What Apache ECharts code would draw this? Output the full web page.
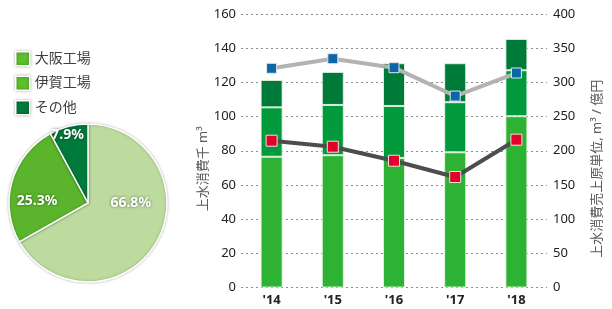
<!DOCTYPE html>
<html>
<head>
<meta charset="utf-8">
<script src="https://cdn.jsdelivr.net/npm/echarts@6/dist/echarts.min.js"></script>
<style>
	html, body { margin: 0; padding: 0; background: #fff; }
	#chart { width: 612px; height: 309px; }
</style>
</head>
<body>
<div id="chart"></div>
<script>
	// 年度
	var years = ["'14", "'15", "'16", "'17", "'18"]
	// 上水消費 千m3（積み上げ）
	var bottomPart = [76.5, 77.4, 75.8, 79.1, 100.2]
	var middlePart = [28.9, 29.4, 30.4, 29.3, 26.9]
	var topPart = [16.0, 19.3, 25.0, 22.8, 18.3]
	// 原単位 m3/億円
	var grayLine = [320.6, 334.6, 321.5, 280.0, 313.7]
	var darkLine = [214.7, 205.9, 185.4, 161.6, 216.2]
	// 円グラフ
	var pieNames = ['大阪工場', '伊賀工場', 'その他']
	var pieValues = [66.8, 25.3, 7.9]
	var pieColors = ['#bddb9e', '#5bb52c', '#007a3a']
	var legendColors = ['#5cbf2c', '#5cbf2c', '#007a38']
	var pieOffsets = [[6, -21], [-10, 10], [-10, -27]]
	// 目盛
	var leftTicks = [0, 160, 20]
	var rightTicks = [0, 400, 50]

	var chart = echarts.init(document.getElementById('chart'))
	var font = '"Noto Sans", "Noto Sans CJK JP", sans-serif'
	var gridLine = { show: true, lineStyle: { color: '#8c8c8c', type: [2, 3], width: 1 } }
	var barBorder = { borderColor: 'rgba(230,245,230,0.85)', borderWidth: 1 }

	var pieData = pieValues.map(function (v, i) {
		return {
			name: pieNames[i],
			value: v,
			itemStyle: { color: pieColors[i] },
			label: { offset: pieOffsets[i] }
		}
	})

	var option = {
		animation: false,
		textStyle: { fontFamily: font },
		legend: {
			orient: 'vertical',
			left: 10,
			top: 46,
			itemWidth: 14,
			itemHeight: 14,
			itemGap: 9,
			selectedMode: false,
			textStyle: { fontSize: 14, color: '#404040', fontFamily: font },
			data: pieNames.map(function (n, i) {
				return {
					name: n,
					icon: 'rect',
					itemStyle: {
						color: legendColors[i], borderColor: '#fff', borderWidth: 1.5,
						shadowBlur: 3, shadowColor: 'rgba(0,0,0,0.35)'
					}
				}
			})
		},
		grid: { left: 241, right: 51, top: 14, bottom: 21.5 },
		xAxis: {
			type: 'category',
			data: years,
			axisLine: { show: false },
			axisTick: { show: false },
			axisLabel: { margin: 6, fontSize: 13, fontWeight: 'bold', color: '#222' }
		},
		yAxis: [{
			type: 'value',
			min: leftTicks[0], max: leftTicks[1], interval: leftTicks[2],
			name: '上水消費千 m³',
			nameLocation: 'middle',
			nameGap: 31,
			// 名前を少し下にずらす
			nameTextStyle: { fontSize: 13, color: '#595959', padding: [0, 36, 0, 0] },
			axisLine: { show: false },
			axisTick: { show: false },
			axisLabel: { margin: 5, fontSize: 13, color: '#222' },
			splitLine: gridLine
		}, {
			type: 'value',
			min: rightTicks[0], max: rightTicks[1], interval: rightTicks[2],
			name: '上水消費売上原単位, m³ / 億円',
			nameLocation: 'middle',
			nameGap: 44,
			nameTextStyle: { fontSize: 13, color: '#595959', padding: [0, 36, 0, 0] },
			axisLine: { show: false },
			axisTick: { show: false },
			axisLabel: { margin: 6, fontSize: 13, color: '#222' },
			splitLine: { show: false }
		}],
		series: [{
			type: 'bar', stack: 'w', barWidth: 22, data: bottomPart,
			itemStyle: Object.assign({ color: '#2db233' }, barBorder)
		}, {
			type: 'bar', stack: 'w', barWidth: 22, data: middlePart,
			itemStyle: Object.assign({ color: '#009a3c' }, barBorder)
		}, {
			type: 'bar', stack: 'w', barWidth: 22, data: topPart,
			itemStyle: Object.assign({ color: '#007a38' }, barBorder)
		}, {
			type: 'line', yAxisIndex: 1, data: grayLine,
			symbol: 'rect', symbolSize: 10,
			lineStyle: { color: '#b3b3b3', width: 4 },
			itemStyle: { color: '#0b67a6', borderColor: '#dfe8ef', borderWidth: 1 }
		}, {
			type: 'line', yAxisIndex: 1, data: darkLine,
			symbol: 'rect', symbolSize: 11,
			lineStyle: { color: '#4d4d4d', width: 4 },
			itemStyle: { color: '#e2002b', borderColor: '#f2dde0', borderWidth: 1 }
		}, {
			type: 'pie',
			center: [88, 203],
			radius: 79,
			startAngle: 90,
			clockwise: true,
			silent: true,
			itemStyle: { borderColor: '#fff', borderWidth: 1.5, shadowBlur: 3, shadowColor: 'rgba(0,0,0,0.25)' },
			label: {
				show: true,
				position: 'inside',
				formatter: '{c}%',
				fontSize: 14,
				fontWeight: 'bold',
				color: '#fff',
				textShadowBlur: 3,
				textShadowColor: 'rgba(0,0,0,0.5)'
			},
			labelLine: { show: false },
			data: pieData
		}]
	}
	chart.setOption(option)
</script>
</body>
</html>
